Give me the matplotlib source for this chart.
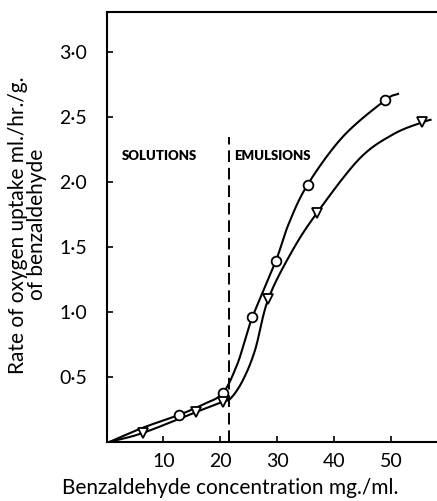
import numpy as np
import matplotlib
matplotlib.use("Agg")
import matplotlib.pyplot as plt

plt.rcParams['font.family'] = ['Lato', 'DejaVu Sans']

# Data points
circle_x = [12.8, 20.4, 25.6, 29.7, 35.3, 48.9]
circle_y = [0.21, 0.375, 0.96, 1.39, 1.98, 2.63]
tri_x = [6.4, 15.7, 20.4, 28.4, 36.9, 55.4]
tri_y = [0.07, 0.23, 0.31, 1.10, 1.76, 2.46]

# Fitted curves
upper_x = [0.5, 6.4, 12.8, 17.0, 20.4, 22.8, 24.3, 25.6, 29.7, 32.0, 35.3, 41.5, 48.9, 51.2]
upper_y = [0.0, 0.11, 0.21, 0.29, 0.375, 0.58, 0.78, 0.96, 1.39, 1.68, 1.98, 2.35, 2.63, 2.68]
lower_x = [0.5, 6.4, 15.7, 20.4, 21.9, 24.0, 26.1, 28.4, 32.6, 36.9, 44.4, 50.4, 55.4, 56.9]
lower_y = [0.0, 0.07, 0.23, 0.31, 0.34, 0.48, 0.71, 1.10, 1.47, 1.76, 2.18, 2.37, 2.46, 2.48]

xticks = [10, 20, 30, 40, 50]
xticklabels = ['10', '20', '30', '40', '50']
yticks = [0.5, 1.0, 1.5, 2.0, 2.5, 3.0]
yticklabels = ['0·5', '1·0', '1·5', '2·0', '2·5', '3·0']
boundary_x = 21.5


def catmull(xs, ys, n=20):
    p = np.column_stack([xs, ys]).astype(float)
    p = np.vstack([2 * p[0] - p[1], p, 2 * p[-1] - p[-2]])
    out = []
    t = np.linspace(0, 1, n, endpoint=False)[:, None]
    for i in range(1, len(p) - 2):
        p0, p1, p2, p3 = p[i - 1], p[i], p[i + 1], p[i + 2]
        m1 = (p2 - p0) / 2
        m2 = (p3 - p1) / 2
        h00 = 2 * t**3 - 3 * t**2 + 1
        h10 = t**3 - 2 * t**2 + t
        h01 = -2 * t**3 + 3 * t**2
        h11 = t**3 - t**2
        out.append(h00 * p1 + h10 * m1 + h01 * p2 + h11 * m2)
    out.append(p[-2][None, :])
    out = np.vstack(out)
    return out[:, 0], out[:, 1]


fig = plt.figure(figsize=(4.37, 5.01), dpi=100)
ax = fig.add_axes([106.5 / 437, 1 - 442 / 501, 1 - 106.5 / 437 + 0.01, (442 - 12) / 501])
ax.set_xlim(0, 58.8)
ax.set_ylim(0, 3.31)

ux, uy = catmull(upper_x, upper_y)
lx, ly = catmull(lower_x, lower_y)
ax.plot(ux, uy, color='black', lw=1.5, zorder=2)
ax.plot(lx, ly, color='black', lw=1.5, zorder=2)
ax.plot(circle_x, circle_y, 'o', ms=7, mfc='white', mec='black', mew=1.3, zorder=3)
ax.plot(tri_x, tri_y, 'v', ms=7, mfc='white', mec='black', mew=1.3, zorder=3)

ax.plot([boundary_x, boundary_x], [0, 2.35], color='black', lw=1.4, ls=(0, (6, 3)), zorder=1)

ax.text(2.75, 2.20, 'SOLUTIONS', fontsize=9.5, fontweight='heavy', va='center', ha='left')
ax.text(22.4, 2.20, 'EMULSIONS', fontsize=9.5, fontweight='heavy', va='center', ha='left')

ax.spines['right'].set_visible(False)
for s in ['left', 'bottom', 'top']:
    ax.spines[s].set_linewidth(1.5)

ax.set_xticks(xticks)
ax.set_xticklabels(xticklabels)
ax.set_yticks(yticks)
ax.set_yticklabels(yticklabels)
ax.tick_params(axis='both', direction='in', length=4, width=1.2, labelsize=14)
ax.tick_params(axis='x', pad=8)
ax.tick_params(axis='y', pad=14)

ax.set_xlabel('Benzaldehyde concentration mg./ml.', fontsize=15)
ax.xaxis.set_label_coords(0.369, -0.083)
ax.xaxis.label.set_va('top')
ax.set_ylabel('Rate of oxygen uptake ml./hr./g.\nof benzaldehyde', fontsize=15,
              linespacing=0.95)
ax.yaxis.set_label_coords(-0.178, 0.505)

fig.savefig('out.png', dpi=100)
